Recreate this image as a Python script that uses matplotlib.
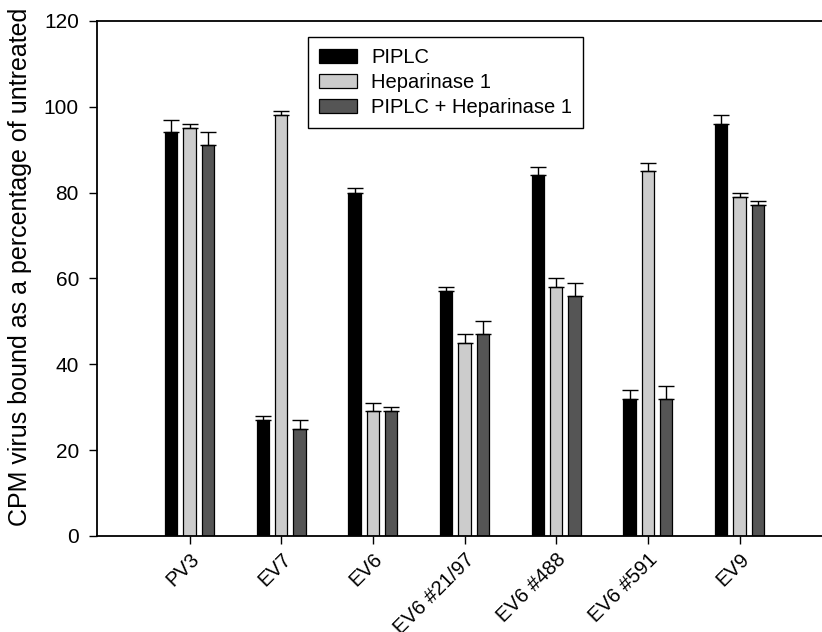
import numpy as np
import matplotlib.pyplot as plt

plt.rcParams['font.family'] = ['Liberation Sans', 'DejaVu Sans']

# values
groups = ['PV3', 'EV7', 'EV6', 'EV6 #21/97', 'EV6 #488', 'EV6 #591', 'EV9']
piplc = [94, 27, 80, 57, 84, 32, 96]
piplc_err = [3, 1, 1, 1, 2, 2, 2]
hep = [95, 98, 29, 45, 58, 85, 79]
hep_err = [1, 1, 2, 2, 2, 2, 1]
both = [91, 25, 29, 47, 56, 32, 77]
both_err = [3, 2, 1, 3, 3, 3, 1]
series_names = ['PIPLC', 'Heparinase 1', 'PIPLC + Heparinase 1']
colors = ['#000000', '#cccccc', '#555555']

fig = plt.figure(figsize=(8.22, 6.32), dpi=100)
ax = fig.add_axes([0.118, 0.152, 0.882, 0.815])

x = np.arange(len(groups))
width = 0.135
offsets = [-0.2, 0, 0.2]
for vals, errs, name, col, off in zip([piplc, hep, both], [piplc_err, hep_err, both_err],
                                      series_names, colors, offsets):
    ax.bar(x + off, vals, width, color=col, edgecolor='black', linewidth=0.9, label=name,
           yerr=[np.zeros(len(errs)), errs],
           error_kw=dict(ecolor='black', elinewidth=1.0, capsize=5.5, capthick=1.0))

ax.set_xlim(-1.01, 6.9)
ax.set_ylim(0, 120)
ax.set_yticks(range(0, 121, 20))
ax.set_xticks(x)
ax.set_xticklabels(groups, rotation=45, ha='right', rotation_mode='anchor', fontsize=14.5)
ax.tick_params(axis='y', labelsize=15, direction='out', length=6, width=1, pad=7)
ax.tick_params(axis='x', direction='out', length=6, width=1, pad=4)
ax.spines['right'].set_visible(False)
for s in ['left', 'top', 'bottom']:
    ax.spines[s].set_linewidth(1.3)
ax.set_ylabel('CPM virus bound as a percentage of untreated', fontsize=18)
ax.yaxis.set_label_coords(-0.089, 0.522)

leg = ax.legend(loc='upper left', bbox_to_anchor=(0.291, 0.969), borderaxespad=0,
                fontsize=14.5, frameon=True, fancybox=False, edgecolor='black',
                framealpha=1, handlelength=1.9, handleheight=0.75, handletextpad=0.7,
                borderpad=0.55, labelspacing=0.3)
leg.get_frame().set_linewidth(1.0)

plt.savefig('out.png', dpi=100)
